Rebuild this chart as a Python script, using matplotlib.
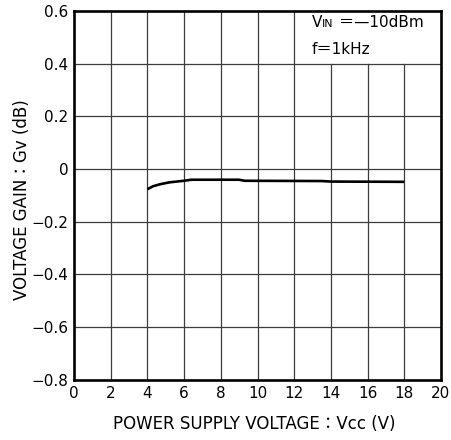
import matplotlib
matplotlib.use("Agg")
import matplotlib.pyplot as plt

plt.rcParams['font.family'] = ['DejaVu Sans', 'Noto Sans CJK JP']

vcc = [4.0, 4.3, 4.7, 5.2, 6.0, 6.4, 9.0, 9.3, 13.5, 14.0, 18.0]
gain = [-0.077, -0.066, -0.058, -0.051, -0.045, -0.041, -0.041, -0.045, -0.046, -0.048, -0.049]

xticks = [0, 2, 4, 6, 8, 10, 12, 14, 16, 18, 20]
yticks = [-0.8, -0.6, -0.4, -0.2, 0, 0.2, 0.4, 0.6]
ytick_labels = ["\u22120.8", "\u22120.6", "\u22120.4", "\u22120.2", "0", "0.2", "0.4", "0.6"]

W, H = 451, 440
fig = plt.figure(figsize=(W / 100, H / 100), dpi=100)
ax = fig.add_axes([74 / W, (H - 379.5) / H, (441 - 74) / W, (379.5 - 11) / H])

xmin, xmax, ymin, ymax = 0, 20, -0.8, 0.6
ax.set_xlim(xmin, xmax)
ax.set_ylim(ymin, ymax)
ax.set_xticks(xticks)
ax.set_yticks(yticks)
ax.set_yticklabels(ytick_labels)
ax.tick_params(length=0, labelsize=11, pad=5, colors='black')
ax.tick_params(axis='y', pad=4)
for s in ax.spines.values():
    s.set_linewidth(1.9)
    s.set_color('black')

# grid (blank box in the upper-right corner for the conditions note)
box_x0, box_y0 = 12, 0.4
gcol, glw = '#3c3c3c', 0.9
for xv in xticks[1:-1]:
    top = 1.0 if xv <= box_x0 else (box_y0 - ymin) / (ymax - ymin)
    ax.axvline(xv, ymin=0, ymax=top, color=gcol, linewidth=glw, zorder=1)
for yv in yticks[1:-1]:
    ax.axhline(yv, color=gcol, linewidth=glw, zorder=1)

ax.plot(vcc, gain, color='black', linewidth=1.9, zorder=3, solid_capstyle='butt')

# conditions note
fs = 11
t1 = ax.text(12.97, 0.539, "V", fontsize=fs, va='baseline', ha='left')
t2 = ax.annotate("IN", xy=(1, 0.539), xycoords=(t1, 'data'), fontsize=fs * 0.72,
                 va='baseline', ha='left')
ax.annotate(" \uff1d\u201410dBm", xy=(1, 0.539), xycoords=(t2, 'data'), fontsize=fs,
            va='baseline', ha='left')
ax.text(12.97, 0.438, "f\uff1d1kHz", fontsize=fs, va='baseline', ha='left')

# axis labels
lfs = 12
xl = fig.text(254 / W, 11.5 / H, "POWER SUPPLY VOLTAGE\uff1aVcc (V)", fontsize=lfs,
              ha='center', va='baseline')
yl = fig.text(27 / W, 1 - 200 / H, "VOLTAGE GAIN\uff1aGv (dB)", fontsize=lfs,
              rotation=90, rotation_mode='anchor', ha='center', va='baseline')

fig.savefig("out.png", dpi=100)
